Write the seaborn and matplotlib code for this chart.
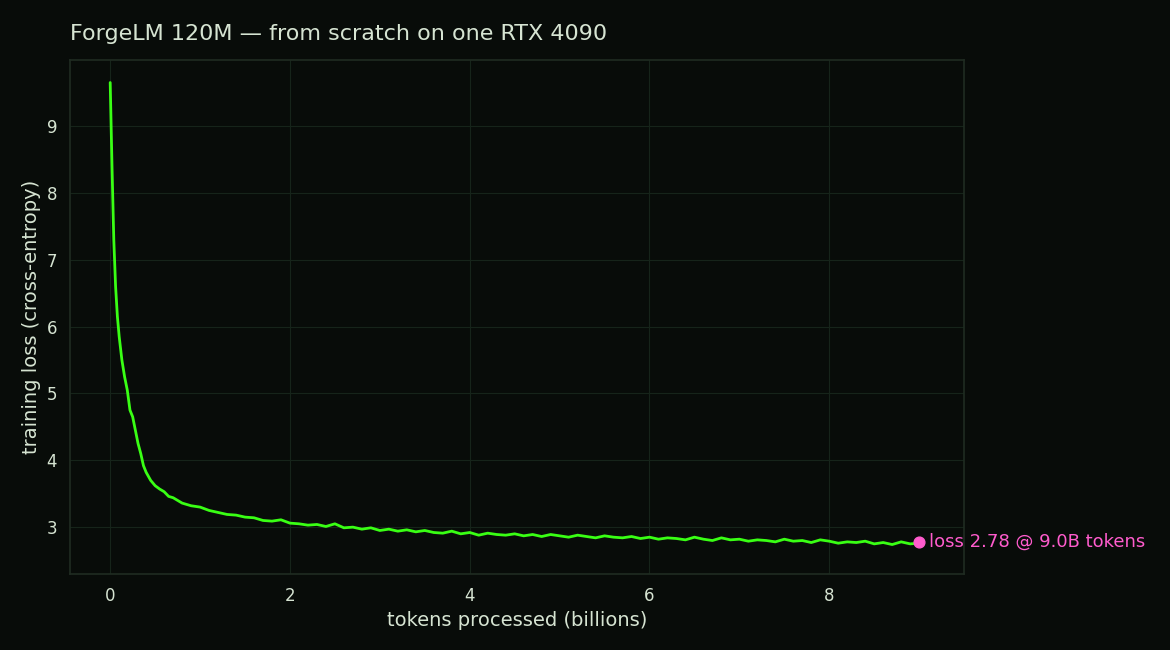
import seaborn as sns
import matplotlib.pyplot as plt
import pandas as pd

# loss curve (billions of tokens, loss)
tokens = [0.0, 0.02, 0.04, 0.06, 0.08, 0.10, 0.13, 0.16, 0.19, 0.22, 0.25, 0.28, 0.31, 0.34, 0.37,
          0.40, 0.45, 0.50, 0.55, 0.60, 0.65, 0.70, 0.75, 0.80, 0.90, 1.00, 1.10, 1.20, 1.30, 1.40,
          1.50, 1.60, 1.70, 1.80, 1.90, 2.00, 2.10, 2.20, 2.30, 2.40, 2.50, 2.60, 2.70, 2.80, 2.90,
          3.00, 3.10, 3.20, 3.30, 3.40, 3.50, 3.60, 3.70, 3.80, 3.90, 4.00, 4.10, 4.20, 4.30, 4.40,
          4.50, 4.60, 4.70, 4.80, 4.90, 5.00, 5.10, 5.20, 5.30, 5.40, 5.50, 5.60, 5.70, 5.80, 5.90,
          6.00, 6.10, 6.20, 6.30, 6.40, 6.50, 6.60, 6.70, 6.80, 6.90, 7.00, 7.10, 7.20, 7.30, 7.40,
          7.50, 7.60, 7.70, 7.80, 7.90, 8.00, 8.10, 8.20, 8.30, 8.40, 8.50, 8.60, 8.70, 8.80, 8.90, 9.00]
loss = [9.65, 8.40, 7.30, 6.60, 6.15, 5.85, 5.50, 5.25, 5.05, 4.75, 4.65, 4.45, 4.25, 4.10, 3.92,
        3.82, 3.70, 3.62, 3.57, 3.53, 3.46, 3.44, 3.40, 3.36, 3.32, 3.30, 3.25, 3.22, 3.19, 3.18,
        3.15, 3.14, 3.10, 3.09, 3.11, 3.06, 3.05, 3.03, 3.04, 3.01, 3.05, 2.99, 3.00, 2.97, 2.99,
        2.95, 2.97, 2.94, 2.96, 2.93, 2.95, 2.92, 2.91, 2.94, 2.90, 2.92, 2.88, 2.91, 2.89, 2.88,
        2.90, 2.87, 2.89, 2.86, 2.89, 2.87, 2.85, 2.88, 2.86, 2.84, 2.87, 2.85, 2.84, 2.86, 2.83,
        2.85, 2.82, 2.84, 2.83, 2.81, 2.85, 2.82, 2.80, 2.84, 2.81, 2.82, 2.79, 2.81, 2.80, 2.78,
        2.82, 2.79, 2.80, 2.77, 2.81, 2.79, 2.76, 2.78, 2.77, 2.79, 2.75, 2.77, 2.74, 2.78, 2.75, 2.76]
final_tokens = 9.0
final_loss = 2.78

bg = "#080c09"
fg = "#d6e4d2"
green = "#39ff14"
pink = "#ff5ccd"

sns.set_theme(style="dark")
plt.rcParams["font.family"] = ["DejaVu Sans"]

fig, ax = plt.subplots(figsize=(11.7, 6.5), dpi=100)
fig.patch.set_facecolor(bg)
ax.set_facecolor(bg)

df = pd.DataFrame({"tokens": tokens, "loss": loss})
sns.lineplot(data=df, x="tokens", y="loss", color=green, linewidth=2, ax=ax)
ax.scatter([final_tokens], [final_loss], color=pink, s=60, zorder=5)
ax.annotate(f"loss {final_loss:.2f} @ {final_tokens:.1f}B tokens", (final_tokens, final_loss),
            xytext=(7, 0), textcoords="offset points", va="center", color=pink, fontsize=13,
            annotation_clip=False)

ax.set_xlim(-0.445, 9.5)
ax.set_ylim(2.3, 9.99)
ax.grid(True, color="#16241a", linewidth=0.8)
for s in ax.spines.values():
    s.set_color("#1f2b21")
ax.tick_params(colors=fg, labelsize=12)
ax.set_xlabel("tokens processed (billions)", color=fg, fontsize=14)
ax.set_ylabel("training loss (cross-entropy)", color=fg, fontsize=14)
ax.set_title("ForgeLM 120M — from scratch on one RTX 4090", color=fg, fontsize=16, loc="left", pad=14)

plt.subplots_adjust(left=0.06, right=0.824, top=0.908, bottom=0.117)
plt.savefig("out.png", facecolor=bg)
